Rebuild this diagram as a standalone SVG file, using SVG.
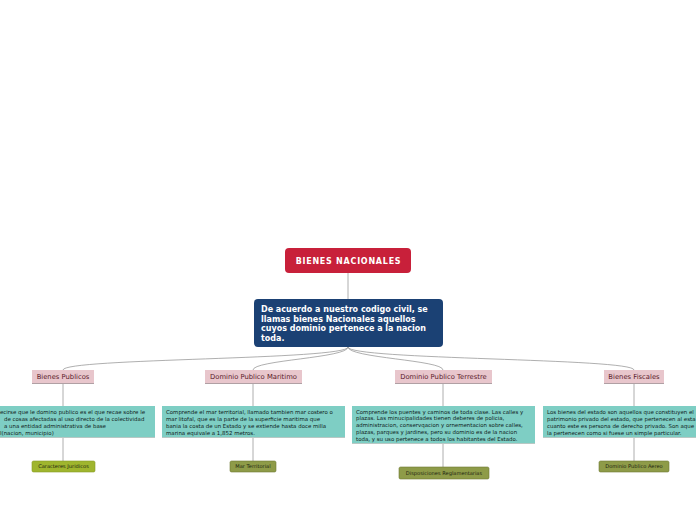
<svg xmlns="http://www.w3.org/2000/svg" width="696" height="520" viewBox="0 0 696 520">
<style>
.conn{fill:none;stroke:#9a9a9a;stroke-width:0.8}
.root{fill:#c8203a}
.main{fill:#1b4174}
.lbl{fill:#e8c6cc}
.lblline{stroke:#b0a0a4;stroke-width:1}
.teal{fill:#7ecec4}
.tealline{stroke:#b8c8c4;stroke-width:1}
.olive{fill:#8e9b48;stroke:#6f7a34;stroke-width:0.6}
.olive2{fill:#9fb52e;stroke:#889a26;stroke-width:0.6}
text{font-family:"DejaVu Sans","Verdana",sans-serif}
.rt{fill:#fff;font-weight:bold;font-size:8px;letter-spacing:0.75px}
.mt{fill:#fff;font-weight:bold;font-size:8px}
.lt{fill:#5a1a2a;font-size:6.8px}
.tt{fill:#102220;font-size:5.45px}
.ot{fill:#1d2410;font-size:5.1px}
</style>
<g id="connectors">
<line class="conn" x1="348" y1="273" x2="348" y2="299"/>
<path class="conn" d="M348,347 C348,360 63,358 63,370"/>
<path class="conn" d="M348,347 C348,358 253,360 253,370"/>
<path class="conn" d="M348,347 C348,358 443,360 443,370"/>
<path class="conn" d="M348,347 C348,360 634,358 634,370"/>
<line class="conn" x1="63" y1="384" x2="63" y2="406"/>
<line class="conn" x1="253" y1="384" x2="253" y2="406"/>
<line class="conn" x1="443" y1="384" x2="443" y2="406"/>
<line class="conn" x1="634" y1="384" x2="634" y2="406"/>
<line class="conn" x1="63" y1="438" x2="63" y2="461"/>
<line class="conn" x1="253" y1="438" x2="253" y2="461"/>
<line class="conn" x1="443" y1="444" x2="443" y2="467"/>
<line class="conn" x1="634" y1="438" x2="634" y2="461"/>
</g>
<g id="root">
<rect class="root" x="285" y="248" width="126" height="25" rx="4"/>
<text class="rt" x="348.5" y="264" text-anchor="middle">BIENES NACIONALES</text>
</g>
<g id="main">
<rect class="main" x="254" y="299" width="189" height="48" rx="4"/>
<text class="mt" x="261" y="312">De acuerdo a nuestro codigo civil, se</text>
<text class="mt" x="261" y="321.5">llamas bienes Nacionales aquellos</text>
<text class="mt" x="261" y="331">cuyos dominio pertenece a la nacion</text>
<text class="mt" x="261" y="340.5">toda.</text>
</g>
<g id="bienes-publicos">
<rect class="lbl" x="32" y="370" width="62" height="13"/>
<line class="lblline" x1="32" y1="383.5" x2="94" y2="383.5"/>
<text class="lt" x="63" y="379" text-anchor="middle">Bienes Publicos</text>
</g>
<g id="dominio-maritimo">
<rect class="lbl" x="205" y="370" width="97" height="13"/>
<line class="lblline" x1="205" y1="383.5" x2="302" y2="383.5"/>
<text class="lt" x="253.5" y="379" text-anchor="middle">Dominio Publico Maritimo</text>
</g>
<g id="dominio-terrestre">
<rect class="lbl" x="395" y="370" width="97" height="13"/>
<line class="lblline" x1="395" y1="383.5" x2="492" y2="383.5"/>
<text class="lt" x="443.5" y="379" text-anchor="middle">Dominio Publico Terrestre</text>
</g>
<g id="bienes-fiscales">
<rect class="lbl" x="604" y="370" width="60" height="13"/>
<line class="lblline" x1="604" y1="383.5" x2="664" y2="383.5"/>
<text class="lt" x="634" y="379" text-anchor="middle">Bienes Fiscales</text>
</g>
<g id="desc-publicos">
<rect class="teal" x="-10" y="406" width="165" height="31"/>
<line class="tealline" x1="-10" y1="437.5" x2="155" y2="437.5"/>
<text class="tt" x="0" y="413.5">ecirse que le domino publico es el que recae sobre le</text>
<text class="tt" x="4" y="420.5">de cosas afectadas al uso directo de la colectividad</text>
<text class="tt" x="4" y="427.5">a una entidad administrativa de base</text>
<text class="tt" x="0" y="434.5">l(nacion, municipio)</text>
</g>
<g id="desc-maritimo">
<rect class="teal" x="162" y="406" width="183" height="31"/>
<line class="tealline" x1="162" y1="437.5" x2="345" y2="437.5"/>
<text class="tt" x="166" y="413.5">Comprende el mar territorial, llamado tambien mar costero o</text>
<text class="tt" x="166" y="420.5">mar litofal, que es la parte de la superficie maritima que</text>
<text class="tt" x="166" y="427.5">bania la costa de un Estado y se extiende hasta doce milla</text>
<text class="tt" x="166" y="434.5">marina equivale a 1,852 metros.</text>
</g>
<g id="desc-terrestre">
<rect class="teal" x="352" y="406" width="183" height="37"/>
<line class="tealline" x1="352" y1="443.5" x2="535" y2="443.5"/>
<text class="tt" x="356" y="413.5">Comprende los puentes y caminos de toda clase. Las calles y</text>
<text class="tt" x="356" y="420.3">plazas. Las minucipalidades tienen deberes de policia,</text>
<text class="tt" x="356" y="427.1">administracion, conservqacion y ornementacion sobre calles,</text>
<text class="tt" x="356" y="433.9">plazas, parques y jardines, pero su dominio es de la nacion</text>
<text class="tt" x="356" y="440.7">toda, y su uso pertenece a todos los habitantes del Estado.</text>
</g>
<g id="desc-fiscales">
<rect class="teal" x="543" y="406" width="160" height="31"/>
<line class="tealline" x1="543" y1="437.5" x2="703" y2="437.5"/>
<text class="tt" x="547" y="413.5">Los bienes del estado son aquellos que constituyen el</text>
<text class="tt" x="547" y="420.5">patrimonio privado del estado, que pertenecen al esta</text>
<text class="tt" x="547" y="427.5">cuanto este es persona de derecho privado. Son aque</text>
<text class="tt" x="547" y="434.5">la pertenecen como si fuese un simple particular.</text>
</g>
<g id="caracteres-juridicos">
<rect class="olive2" x="32" y="461" width="63" height="11" rx="1.5"/>
<text class="ot" x="63.5" y="468.4" text-anchor="middle">Caracteres Juridicos</text>
</g>
<g id="mar-territorial">
<rect class="olive" x="230" y="461" width="46" height="11" rx="1.5"/>
<text class="ot" x="253" y="468.4" text-anchor="middle">Mar Territorial</text>
</g>
<g id="disposiciones">
<rect class="olive" x="399" y="467" width="90" height="12" rx="1.5"/>
<text class="ot" x="444" y="474.9" text-anchor="middle">Disposiciones Reglamentarias</text>
</g>
<g id="dominio-aereo">
<rect class="olive" x="599" y="461" width="70" height="11" rx="1.5"/>
<text class="ot" x="634" y="468.4" text-anchor="middle">Dominio Publico Aereo</text>
</g>
</svg>
